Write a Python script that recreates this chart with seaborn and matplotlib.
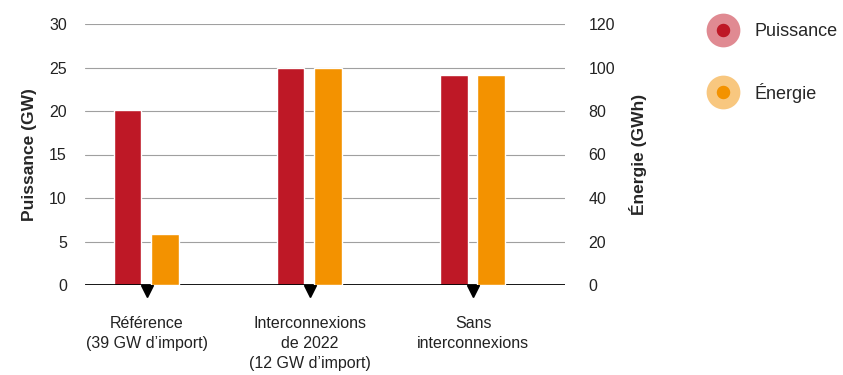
import numpy as np
import pandas as pd
import seaborn as sns
import matplotlib.pyplot as plt
from matplotlib.lines import Line2D

# donnees
scenarios = ["Référence\n(39 GW d\u2019import)",
             "Interconnexions\nde 2022\n(12 GW d\u2019import)",
             "Sans\ninterconnexions"]
puissance = [20.1, 25.0, 24.1]   # GW
energie = [23.3, 100.0, 96.4]    # GWh

red = "#BE1826"
orange = "#F39200"
red_halo = "#E08A92"
orange_halo = "#F8C77F"

sns.set_theme(style="white")
plt.rcParams['font.family'] = ['Liberation Sans Narrow', 'Liberation Sans', 'DejaVu Sans']

df = pd.DataFrame({"scenario": scenarios, "puissance": puissance, "energie": energie})
x = np.arange(len(df))

fig = plt.figure(figsize=(8.43, 3.75), dpi=100)
ax = fig.add_axes([0.1008, 0.24, 0.569, 0.696])
ax2 = ax.twinx()

w = 0.17
ax.bar(x - 0.12, df["puissance"], width=w, color=red, zorder=3)
ax2.bar(x + 0.11, df["energie"], width=w, color=orange, zorder=3)

ax.set_ylim(0, 30)
ax2.set_ylim(0, 120)
ax.set_yticks(range(0, 31, 5))
ax2.set_yticks(range(0, 121, 20))
ax.set_xlim(-0.38, 2.56)
ax.set_xticks(x)
ax.set_xticklabels(df["scenario"], fontsize=11.5, color="#222222", linespacing=1.45)

# grille horizontale
for v in range(5, 31, 5):
    ax.axhline(v, color="#a0a0a0", lw=0.8, zorder=1)
ax.axhline(0, color="black", lw=2, zorder=4)

# petits triangles sous l'axe
ax.plot(x, [-0.7] * len(x), "v", color="black", ms=8, clip_on=False, zorder=5)

sns.despine(ax=ax, left=True, bottom=True, right=True, top=True)
sns.despine(ax=ax2, left=True, bottom=True, right=True, top=True)

ax.tick_params(axis="y", length=0, pad=13, labelsize=11.5, labelcolor="#222222")
ax2.tick_params(axis="y", length=0, pad=17, labelsize=11.5, labelcolor="#222222")
ax.tick_params(axis="x", length=0, pad=22)

ax.set_ylabel("Puissance (GW)", fontsize=12.5, fontweight="bold", labelpad=9)
ax2.set_ylabel("Énergie (GWh)", fontsize=12.5, fontweight="bold", labelpad=10)

handles = [
    Line2D([], [], ls="none", marker="o", ms=17, mew=7.3, mfc=red, mec=red_halo),
    Line2D([], [], ls="none", marker="o", ms=17, mew=7.3, mfc=orange, mec=orange_halo),
]
fig.legend(handles, ["Puissance", "Énergie"], loc="upper left",
           bbox_to_anchor=(0.826, 0.962), frameon=False, labelspacing=2.35,
           handletextpad=0.75, borderpad=0,
           prop={"family": ["Liberation Sans", "DejaVu Sans"], "size": 13})

fig.savefig("out.png", dpi=100)
